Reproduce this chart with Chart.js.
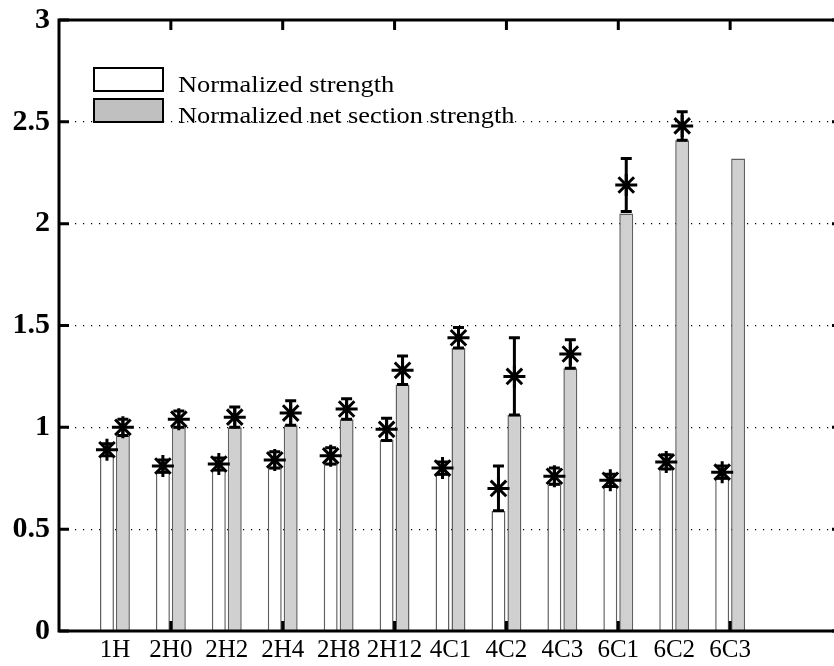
<!DOCTYPE html>
<html>
<head>
<meta charset="utf-8">
<script src="https://cdn.jsdelivr.net/npm/chart.js@4.4.1/dist/chart.umd.min.js"></script>
<style>
    html, body { margin: 0; padding: 0; background: #fff; overflow: hidden; }
</style>
</head>
<body>
<canvas id="strengthChart" width="850" height="666"></canvas>
<script>
// --- DATA ---
const categories = ['1H', '2H0', '2H2', '2H4', '2H8', '2H12', '4C1', '4C2', '4C3', '6C1', '6C2', '6C3'];
const seriesNames = ['Normalized strength', 'Normalized net section strength'];

// normalized strength (white bars)
const strengthBar  = [0.86, 0.78, 0.79, 0.80, 0.82, 0.94, 0.77, 0.59, 0.72, 0.71, 0.80, 0.75];
const strengthMean = [0.89, 0.81, 0.82, 0.84, 0.86, 0.99, 0.80, 0.70, 0.76, 0.74, 0.83, 0.78];
const strengthErr  = [0.03, 0.03, 0.03, 0.04, 0.04, 0.055, 0.03, 0.11, 0.04, 0.03, 0.035, 0.03];

// normalized net section strength (gray bars)
const netBar  = [0.96, 1.00, 1.00, 1.01, 1.04, 1.21, 1.39, 1.06, 1.29, 2.05, 2.41, 2.32];
const netMean = [1.00, 1.04, 1.05, 1.07, 1.09, 1.28, 1.44, 1.25, 1.36, 2.19, 2.48, null];
const netErr  = [0.04, 0.04, 0.05, 0.06, 0.05, 0.07, 0.05, 0.19, 0.07, 0.13, 0.07, null];

const yTicks = [0, 0.5, 1, 1.5, 2, 2.5, 3];
const xFrameTicks = [2, 4, 6, 8, 10, 12, 14];

const serif = "'Liberation Serif', 'Times New Roman', serif";

// --- PLUGINS ---
// asterisk markers + error bars, placed on the bars the library drew
const errorStars = {
    id: 'errorStars',
    afterDatasetsDraw(chart) {
        const ctx = chart.ctx;
        const y = chart.scales.y;
        const sets = [[strengthMean, strengthErr], [netMean, netErr]];
        ctx.save();
        ctx.strokeStyle = '#000';
        ctx.lineWidth = 3;
        ctx.lineCap = 'butt';
        sets.forEach(([means, errs], d) => {
            chart.getDatasetMeta(d).data.forEach((bar, i) => {
                if (means[i] == null) return;
                const x = bar.x;
                const yc = y.getPixelForValue(means[i]);
                const yTop = y.getPixelForValue(means[i] + errs[i]);
                const yBot = y.getPixelForValue(means[i] - errs[i]);
                ctx.beginPath();
                ctx.moveTo(x, yTop); ctx.lineTo(x, yBot);
                ctx.moveTo(x - 5.5, yTop); ctx.lineTo(x + 5.5, yTop);
                ctx.moveTo(x - 5.5, yBot); ctx.lineTo(x + 5.5, yBot);
                ctx.stroke();
                // asterisk
                const r = 11, q = r * 0.707;
                ctx.beginPath();
                ctx.moveTo(x - r, yc); ctx.lineTo(x + r, yc);
                ctx.moveTo(x, yc - r); ctx.lineTo(x, yc + r);
                ctx.moveTo(x - q, yc - q); ctx.lineTo(x + q, yc + q);
                ctx.moveTo(x - q, yc + q); ctx.lineTo(x + q, yc - q);
                ctx.stroke();
            });
        });
        ctx.restore();
    }
};

// boxed frame with inward ticks on all four sides
const frame = {
    id: 'frame',
    afterDraw(chart) {
        const ctx = chart.ctx;
        const { left, right, top, bottom } = chart.chartArea;
        const x = chart.scales.x, y = chart.scales.y;
        const tl = 10;
        ctx.save();
        ctx.strokeStyle = '#000';
        ctx.lineWidth = 3;
        ctx.beginPath();
        xFrameTicks.forEach(v => {
            const px = x.getPixelForValue(v);
            ctx.moveTo(px, bottom); ctx.lineTo(px, bottom - tl);
            ctx.moveTo(px, top); ctx.lineTo(px, top + tl);
        });
        yTicks.forEach(v => {
            const py = y.getPixelForValue(v);
            ctx.moveTo(left, py); ctx.lineTo(left + tl, py);
            ctx.moveTo(right, py); ctx.lineTo(right - tl, py);
        });
        ctx.stroke();
        ctx.strokeRect(left, top, right - left, bottom - top);
        ctx.restore();
    }
};

// legend in the upper left corner, no background
const boxLegend = {
    id: 'boxLegend',
    afterDraw(chart) {
        const ctx = chart.ctx;
        const { left, top } = chart.chartArea;
        const fills = ['#ffffff', '#c0c0c0'];
        ctx.save();
        seriesNames.forEach((name, i) => {
            const bx = left + 35, by = top + 48 + i * 31;
            ctx.fillStyle = fills[i];
            ctx.fillRect(bx, by, 69, 23);
            ctx.strokeStyle = '#000';
            ctx.lineWidth = 2;
            ctx.strokeRect(bx, by, 69, 23);
            ctx.fillStyle = '#000';
            ctx.font = '24px ' + serif;
            ctx.textBaseline = 'alphabetic';
            ctx.translate(bx + 84, by + 24);
            ctx.scale(1.1, 1);
            ctx.fillText(name, 0, 0);
            ctx.setTransform(1, 0, 0, 1, 0, 0);
        });
        ctx.restore();
    }
};

// --- CHART ---
const ctx = document.getElementById('strengthChart');
new Chart(ctx, {
    type: 'bar',
    data: {
        datasets: [
            {
                label: seriesNames[0],
                data: categories.map((c, i) => ({ x: i + 1, y: strengthBar[i] })),
                backgroundColor: '#ffffff', borderColor: '#606060', borderWidth: 1.5, borderSkipped: 'start'
            },
            {
                label: seriesNames[1],
                data: categories.map((c, i) => ({ x: i + 1, y: netBar[i] })),
                backgroundColor: '#d0d0d0', borderColor: '#606060', borderWidth: 1.5, borderSkipped: 'start'
            }
        ]
    },
    options: {
        responsive: false,
        animation: false,
        devicePixelRatio: 1,
        categoryPercentage: 0.57,
        barPercentage: 0.875,
        layout: { padding: { top: 20, right: 8, left: 0, bottom: 0 } },
        plugins: { legend: { display: false }, tooltip: { enabled: false } },
        scales: {
            x: {
                type: 'linear', min: 0, max: 14, offset: false,
                grid: { display: false, drawTicks: false },
                border: { display: false },
                afterBuildTicks: s => { s.ticks = categories.map((c, i) => ({ value: i + 1 })); },
                afterFit: s => { s.height = 35; s.paddingLeft = 0; s.paddingRight = 0; },
                ticks: {
                    autoSkip: false, maxRotation: 0, minRotation: 0, padding: 4, color: '#000',
                    font: { family: serif, size: 25 },
                    callback: v => categories[v - 1] || ''
                }
            },
            y: {
                min: 0, max: 3,
                afterBuildTicks: s => { s.ticks = yTicks.map(v => ({ value: v })); },
                afterFit: s => { s.width = 59; s.paddingTop = 0; s.paddingBottom = 0; },
                grid: { color: '#000', lineWidth: 1.2, drawTicks: false },
                border: { display: false, dash: [1.2, 6.8] },
                ticks: {
                    padding: 9, color: '#000',
                    font: { family: serif, size: 30, weight: 'bold' },
                    callback: v => String(v)
                }
            }
        }
    },
    plugins: [errorStars, frame, boxLegend]
});
</script>
</body>
</html>
